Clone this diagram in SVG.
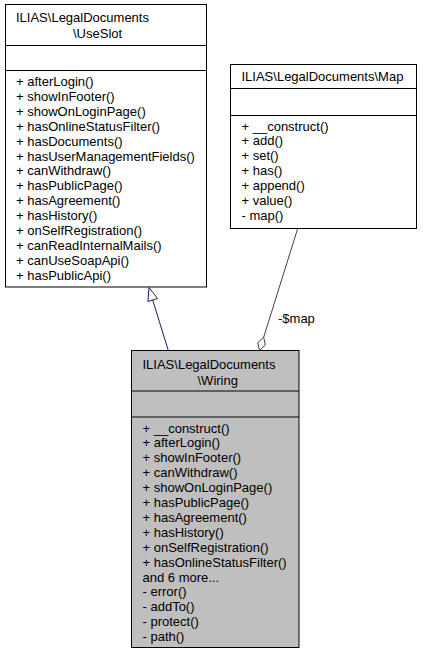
<svg xmlns="http://www.w3.org/2000/svg" width="423" height="653" viewBox="0 0 423 653">
<style>
text { font-family: "Liberation Sans", Arial, sans-serif; font-size: 13px; fill: #000; }
.box { fill: #fff; stroke: #000; stroke-width: 1; }
.cur { fill: #bfbfbf; stroke: #000; stroke-width: 1; }
.sep { stroke: #000; stroke-width: 1; fill: none; }
.inh { stroke: #191970; stroke-width: 1; fill: none; }
.agg { stroke: #404040; stroke-width: 1; fill: none; }
</style>
<rect width="423" height="653" fill="#fff"/>

<g id="node-useslot">
<rect class="box" x="5.5" y="4.5" width="201" height="282.5"/>
<line class="sep" x1="5.5" y1="45.5" x2="206.5" y2="45.5"/>
<line class="sep" x1="5.5" y1="70.5" x2="206.5" y2="70.5"/>
<text x="16" y="21.5">ILIAS\LegalDocuments</text>
<text x="73" y="38">\UseSlot</text>
<text x="16" y="86">+ afterLogin()</text>
<text x="16" y="100.9">+ showInFooter()</text>
<text x="16" y="115.8">+ showOnLoginPage()</text>
<text x="16" y="130.7">+ hasOnlineStatusFilter()</text>
<text x="16" y="145.6">+ hasDocuments()</text>
<text x="16" y="160.5">+ hasUserManagementFields()</text>
<text x="16" y="175.4">+ canWithdraw()</text>
<text x="16" y="190.3">+ hasPublicPage()</text>
<text x="16" y="205.2">+ hasAgreement()</text>
<text x="16" y="220.1">+ hasHistory()</text>
<text x="16" y="235">+ onSelfRegistration()</text>
<text x="16" y="249.9">+ canReadInternalMails()</text>
<text x="16" y="264.8">+ canUseSoapApi()</text>
<text x="16" y="279.7">+ hasPublicApi()</text>
</g>

<g id="node-map">
<rect class="box" x="230.5" y="64.5" width="186" height="164"/>
<line class="sep" x1="230.5" y1="88.5" x2="416.5" y2="88.5"/>
<line class="sep" x1="230.5" y1="115.5" x2="416.5" y2="115.5"/>
<text x="241.5" y="81">ILIAS\LegalDocuments\Map</text>
<text x="241.5" y="130.5">+ __construct()</text>
<text x="241.5" y="145.4">+ add()</text>
<text x="241.5" y="160.3">+ set()</text>
<text x="241.5" y="175.2">+ has()</text>
<text x="241.5" y="190.1">+ append()</text>
<text x="241.5" y="205">+ value()</text>
<text x="241.5" y="219.9">- map()</text>
</g>

<g id="node-wiring">
<rect class="cur" x="131.5" y="350.5" width="167.5" height="297"/>
<line class="sep" x1="131.5" y1="391" x2="299" y2="391"/>
<line class="sep" x1="131.5" y1="417" x2="299" y2="417"/>
<text x="142.5" y="368.5">ILIAS\LegalDocuments</text>
<text x="197.5" y="385">\Wiring</text>
<text x="142.5" y="432.5">+ __construct()</text>
<text x="142.5" y="447.4">+ afterLogin()</text>
<text x="142.5" y="462.3">+ showInFooter()</text>
<text x="142.5" y="477.2">+ canWithdraw()</text>
<text x="142.5" y="492.1">+ showOnLoginPage()</text>
<text x="142.5" y="507">+ hasPublicPage()</text>
<text x="142.5" y="521.9">+ hasAgreement()</text>
<text x="142.5" y="536.8">+ hasHistory()</text>
<text x="142.5" y="551.7">+ onSelfRegistration()</text>
<text x="142.5" y="566.6">+ hasOnlineStatusFilter()</text>
<text x="142.5" y="581.5">and 6 more...</text>
<text x="142.5" y="596.4">- error()</text>
<text x="142.5" y="611.3">- addTo()</text>
<text x="142.5" y="626.2">- protect()</text>
<text x="142.5" y="641.1">- path()</text>
</g>

<g id="connectors">
<g id="edge-inherit">
<path class="inh" d="M168.3,350.5 L152.7,300"/>
<polygon class="inh" fill="#fff" points="149,287.5 157.5,298.5 147.9,301.5"/>
</g>
<g id="edge-map">
<path class="agg" d="M297.7,228.5 L263.7,337.1"/>
<polygon class="agg" fill="#fff" points="259.5,350.5 265.3,344.9 263.7,337.1 257.7,342.7"/>
<text x="278" y="323">-$map</text>
</g>
</g>
</svg>
